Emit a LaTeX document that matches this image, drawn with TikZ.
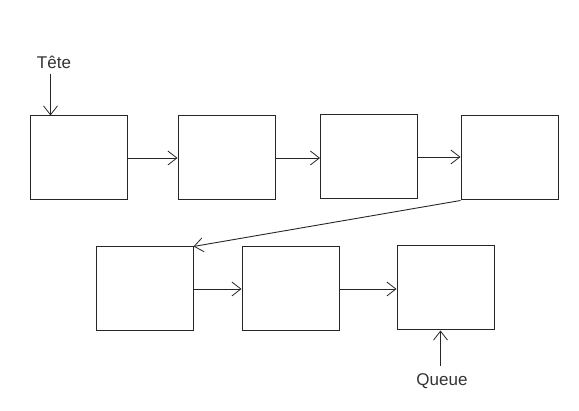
\documentclass[tikz,border=0pt]{standalone}
\usepackage{fontspec}
\setmainfont{Liberation Sans}
\usetikzlibrary{arrows.meta}
\begin{document}
\begin{tikzpicture}[x=1pt,y=-1pt,
  cell/.style={draw=black!85,line width=1pt,rectangle,inner sep=0pt,minimum width=97pt,minimum height=84pt},
  link/.style={draw=black!85,line width=0.9pt,-{Straight Barb[length=9pt,width=14pt,line width=0.8pt]}},
  lbl/.style={font=\fontsize{17}{19}\selectfont,text=black!80,inner sep=0pt}]
\useasboundingbox (0,0) rectangle (579,411);
\node[cell] (b1) at (78.5,158) {};
\node[cell] (b2) at (226.5,158) {};
\node[cell] (b3) at (369,157) {};
\node[cell] (b4) at (509.5,158) {};
\node[cell] (b5) at (144.5,289) {};
\node[cell] (b6) at (290.5,289) {};
\node[cell] (b7) at (445.5,288) {};
\draw[link] (b1.east) -- (b2.west);
\draw[link] (b2.east) -- (b2.east -| b3.west);
\draw[link] (b3.east) -- (b3.east -| b4.west);
\draw[link] (b4.south west) -- (b5.north east);
\draw[link] (b5.east) -- (b6.west);
\draw[link] (b6.east) -- (b6.east -| b7.west);
\node[lbl] (tete) at (54,62) {Tête};
\node[lbl] (queue) at (442,381) {Queue};
\coordinate (ta) at (50.5,74);
\coordinate (qa) at (440.5,366);
\draw[link] (ta) -- (ta |- b1.north);
\draw[link] (qa) -- (qa |- b7.south);
\end{tikzpicture}
\end{document}
